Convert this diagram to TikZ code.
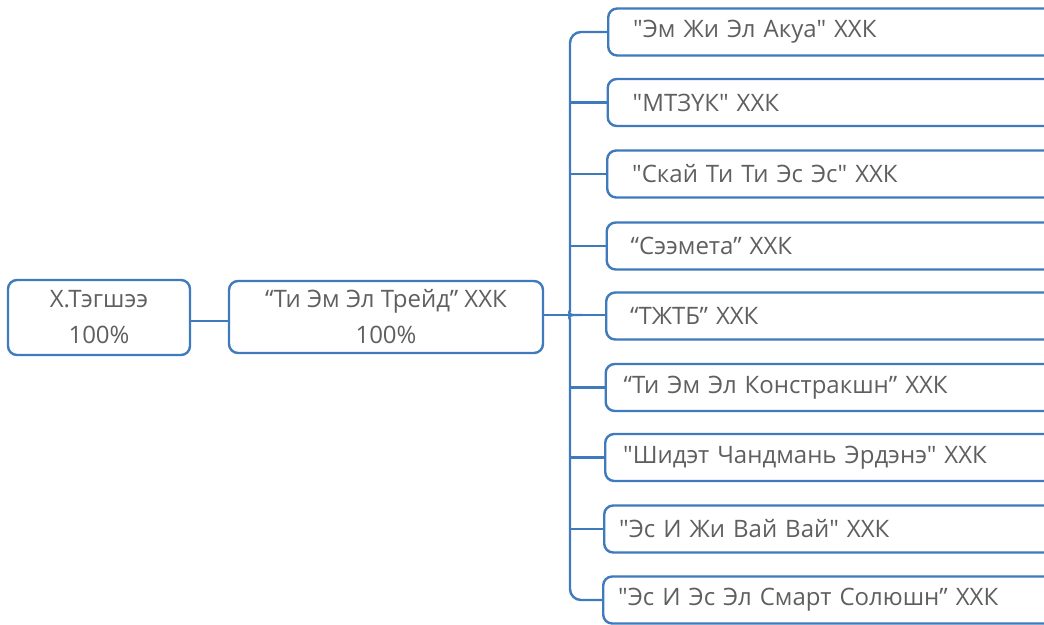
\documentclass[tikz,border=0pt]{standalone}
\usepackage{fontspec}
\setmainfont{Open Sans}[Ligatures=TeXOff]
\begin{document}
\begin{tikzpicture}[x=1pt,y=-1pt,
  bluec/.style={draw=blueln, line width=2.4pt},
  box/.style={bluec, rounded corners=9pt, text=txtc, font=\fontsize{24}{36}\selectfont, inner sep=0pt, align=center},
  rbox/.style={bluec, rounded corners=9pt, text=txtc, font=\fontsize{24}{28}\selectfont, anchor=west, minimum width=455pt, inner ysep=0pt, minimum height=47pt, align=left},
  conn/.style={draw=blueln, line width=2.4pt}
]
\definecolor{blueln}{RGB}{62,122,188}
\definecolor{txtc}{RGB}{95,95,95}
\useasboundingbox (0,0) rectangle (1044,624);
\node[box, minimum width=182pt, minimum height=75pt] (b1) at (99,317.5) {X.Тэгшээ\\100\%};
\node[box, minimum width=314pt, minimum height=72pt] (b2) at (386,317) {“Ти Эм Эл Трейд” ХХК\\100\%};
\node[rbox, inner xsep=25pt, text width=405pt] (r1) at (607,32) {"Эм Жи Эл Акуа" ХХК};
\node[rbox, inner xsep=25pt, text width=405pt] (r2) at (606.5,102.5) {"МТЗҮК" ХХК};
\node[rbox, inner xsep=25pt, text width=405pt] (r3) at (606,174) {"Скай Ти Ти Эс Эс" ХХК};
\node[rbox, inner xsep=24pt, text width=407pt] (r4) at (605.5,246) {“Сээмета” ХХК};
\node[rbox, inner xsep=24pt, text width=407pt] (r5) at (605,316) {“ТЖТБ” ХХК};
\node[rbox, inner xsep=18pt, text width=419pt] (r6) at (604.5,387.5) {“Ти Эм Эл Констракшн” ХХК};
\node[rbox, inner xsep=18pt, text width=419pt] (r7) at (604,457.5) {"Шидэт Чандмань Эрдэнэ" ХХК};
\node[rbox, inner xsep=15pt, text width=425pt] (r8) at (603,529) {"Эс И Жи Вай Вай" ХХК};
\node[rbox, inner xsep=15pt, text width=425pt] (r9) at (602,600) {"Эс И Эс Эл Смарт Солюшн” ХХК};
\coordinate (trunk) at (570,315);
\coordinate (tip) at (562,315);
\coordinate (cy) at (0,321);
\draw[conn] (b1.east |- cy) -- (b2.west |- cy);
\draw[conn] (b2.east |- tip) -- (tip);
\draw[conn, rounded corners=11pt] (r1.west) -- (r1.west -| trunk) -- (570,300)
  .. controls (570,310) and (567,315) .. (tip)
  .. controls (567,315) and (570,320) .. (570,330)
  -- (r9.west -| trunk) -- (r9.west);
\draw[conn] (tip) -- (r5.west |- tip);
\foreach \i in {2,3,4,6,7,8}{
  \draw[conn] (r\i.west) -- (r\i.west -| trunk);
}
\end{tikzpicture}
\end{document}
